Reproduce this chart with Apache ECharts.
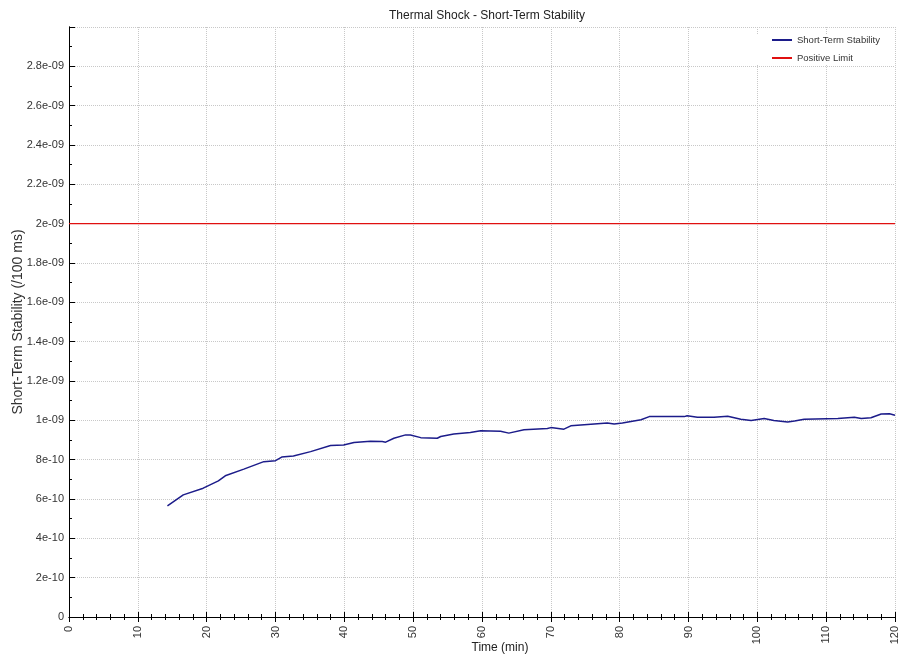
<!DOCTYPE html>
<html>
<head>
<meta charset="utf-8">
<script src="https://cdn.jsdelivr.net/npm/echarts@6/dist/echarts.min.js"></script>
<style>html,body{margin:0;padding:0;background:#fff}#c{width:901px;height:669px}</style>
</head>
<body>
<div id="c"></div>
<script>
const titleText = 'Thermal Shock - Short-Term Stability';
const xName = 'Time (min)';
const yName = 'Short-Term Stability (/100 ms)';
const seriesNames = ['Short-Term Stability', 'Positive Limit'];
const timeMin = [14.3,16.6,19.5,21.7,22.7,25.4,28.3,30.0,30.9,32.6,35.1,38.0,39.9,41.4,43.8,45.5,46.0,47.2,48.9,49.6,51.1,53.5,54.0,55.9,58.3,59.8,62.7,63.9,66.1,69.5,70.0,71.9,72.9,76.3,78.2,79.2,80.4,83.1,84.3,89.4,89.8,91.3,93.7,95.7,97.6,99.1,101.0,102.4,104.4,105.4,106.8,111.7,114.1,115.1,116.5,118.0,119.2,120.0];
const stability = [0.565,0.621,0.655,0.692,0.718,0.752,0.790,0.795,0.813,0.819,0.841,0.872,0.875,0.887,0.894,0.892,0.889,0.909,0.926,0.925,0.912,0.909,0.918,0.931,0.938,0.947,0.945,0.935,0.952,0.958,0.963,0.955,0.972,0.981,0.986,0.981,0.986,1.003,1.019,1.019,1.023,1.016,1.016,1.021,1.006,0.999,1.009,0.999,0.992,0.997,1.006,1.009,1.016,1.009,1.013,1.032,1.033,1.026].map(v => v * 1e-9);
const limitTime = [0, 120];
const limitValue = [2e-9, 2e-9];

function fmtY(v) {
  if (v >= 2.95e-9) return '';
  if (Math.abs(v) < 1e-15) return '0';
  let s = Number(v.toPrecision(6)).toExponential();
  return s.replace(/e([+-])(\d)$/, 'e$10$2');
}

const chart = echarts.init(document.getElementById('c'));
const font = 'Liberation Sans, Arial, sans-serif';
const gridStyle = { color: '#c8c8c8', type: 'dotted', width: 1 };
chart.setOption({
  animation: false,
  title: { text: titleText, left: 482, top: 5, textAlign: 'center',
    textStyle: { fontFamily: font, fontSize: 12, fontWeight: 'normal', color: '#222' } },
  legend: {
    orient: 'vertical', left: 752, top: 35, itemWidth: 20, itemHeight: 2, itemGap: 8,
    icon: 'rect', padding: [0, 8, 2, 20], backgroundColor: '#fff',
    textStyle: { fontFamily: font, fontSize: 9.5, color: '#333' },
    data: seriesNames
  },
  grid: { left: 69, right: 6, top: 27, bottom: 52, containLabel: false, outerBoundsMode: 'none' },
  xAxis: [
    {
      type: 'value', min: 0, max: 120, interval: 10, position: 'bottom',
      name: xName, nameLocation: 'middle', nameGap: 25, nameMoveOverlap: false,
      nameTextStyle: { fontFamily: font, fontSize: 12, color: '#222', padding: [0, 0, 0, 36] },
      axisLine: { show: true, lineStyle: { color: '#000', width: 1 } },
      axisTick: { show: true, inside: true, length: 5, lineStyle: { color: '#000' } },
      axisLabel: { rotate: 90, fontFamily: font, fontSize: 11, color: '#333', margin: 9 },
      minorTick: { show: true, splitNumber: 5, length: 3, lineStyle: { color: '#000' } },
      splitLine: { show: true, lineStyle: gridStyle }
    },
    {
      type: 'value', min: 0, max: 120, interval: 10, position: 'top',
      axisLine: { show: true, lineStyle: { color: '#000', width: 1 } },
      axisTick: { show: true, inside: true, length: 5, lineStyle: { color: '#000' } },
      axisLabel: { show: false },
      minorTick: { show: true, splitNumber: 5, length: 3, lineStyle: { color: '#000' } },
      splitLine: { show: false }
    }
  ],
  yAxis: [
    {
      type: 'value', min: 0, max: 3e-9, interval: 2e-10, position: 'left',
      name: yName, nameLocation: 'middle', nameGap: 44, nameMoveOverlap: false,
      nameTextStyle: { fontFamily: font, fontSize: 14, color: '#333' },
      axisLine: { show: true, lineStyle: { color: '#000', width: 1 } },
      axisTick: { show: true, inside: true, length: 6, lineStyle: { color: '#000' } },
      axisLabel: { formatter: fmtY, fontFamily: font, fontSize: 11, color: '#333', margin: 5 },
      minorTick: { show: true, splitNumber: 2, length: 3, lineStyle: { color: '#000' } },
      splitLine: { show: true, lineStyle: gridStyle }
    },
    {
      type: 'value', min: 0, max: 3e-9, interval: 2e-10, position: 'right',
      axisLine: { show: true, lineStyle: { color: '#000', width: 1 } },
      axisTick: { show: true, inside: false, length: 5, lineStyle: { color: '#000' } },
      axisLabel: { show: false },
      minorTick: { show: true, splitNumber: 2, length: 3, lineStyle: { color: '#000' } },
      splitLine: { show: false }
    }
  ],
  series: [
    {
      name: seriesNames[0], type: 'line', showSymbol: false, symbol: 'none',
      data: timeMin.map((t, i) => [t, stability[i]]),
      lineStyle: { color: '#1c1c8a', width: 1.5 }, itemStyle: { color: '#1c1c8a' }
    },
    {
      name: seriesNames[1], type: 'line', showSymbol: false, symbol: 'none',
      data: limitTime.map((t, i) => [t, limitValue[i]]),
      lineStyle: { color: '#e01010', width: 1.2 }, itemStyle: { color: '#e01010' }
    }
  ]
});
</script>
</body>
</html>
